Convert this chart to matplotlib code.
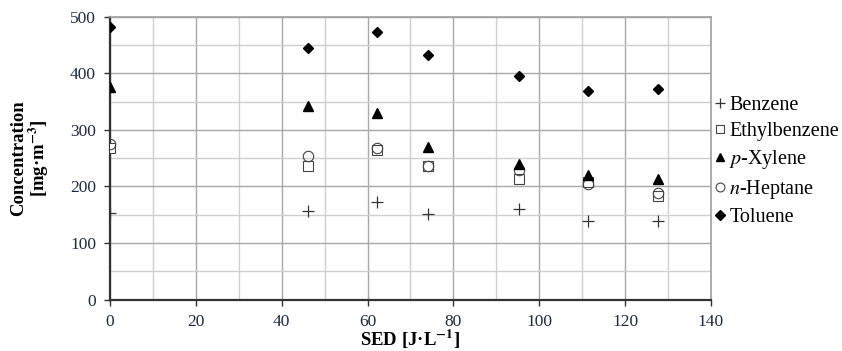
import numpy as np
import matplotlib.pyplot as plt
from matplotlib.ticker import MultipleLocator

plt.rcParams['font.family'] = ['Liberation Serif', 'DejaVu Serif']
plt.rcParams['mathtext.fontset'] = 'stix'

# Data
sed = [0, 46.2, 62.3, 74.0, 95.3, 111.3, 127.7]
benzene = [153, 157, 173, 151, 160, 139, 139]
ethylbenzene = [268, 237, 265, 237, 213, 207, 184]
p_xylene = [375, 342, 329, 270, 239, 220, 214]
n_heptane = [275, 254, 268, 236, 229, 204, 189]
toluene = [482, 445, 473, 433, 396, 368, 372]

fig = plt.figure(figsize=(8.42, 3.51), dpi=100)
ax = fig.add_axes([0.1306, 0.1464, 0.7138, 0.806])

# Series
ax.plot(sed, benzene, ls='none', marker='+', ms=8, mew=0.9, color='#333333', label='Benzene', zorder=3)
ax.plot(sed, ethylbenzene, ls='none', marker='s', ms=7, mfc='white', mec='#444444', mew=0.8,
        label='Ethylbenzene', zorder=3)
ax.plot(sed, n_heptane, ls='none', marker='o', ms=7.5, mfc='none', mec='#444444', mew=0.8,
        label=r'$n$-Heptane', zorder=4)
ax.plot(sed, p_xylene, ls='none', marker='^', ms=7, color='black', label=r'$p$-Xylene', zorder=5)
ax.plot(sed, toluene, ls='none', marker='D', ms=5.5, color='black', label='Toluene', zorder=5)

ax.set_xlim(0, 140)
ax.set_ylim(0, 500)
ax.xaxis.set_major_locator(MultipleLocator(20))
ax.xaxis.set_minor_locator(MultipleLocator(10))
ax.yaxis.set_major_locator(MultipleLocator(100))
ax.yaxis.set_minor_locator(MultipleLocator(50))

ax.grid(True, which='major', color='#a8a8a8', lw=1.0, zorder=0)
ax.grid(True, which='minor', color='#cfcfcf', lw=1.0, zorder=0)
ax.set_axisbelow(True)

for s in ['top', 'right']:
    ax.spines[s].set_color('#a0a0a0')
    ax.spines[s].set_linewidth(1.2)
for s in ['left', 'bottom']:
    ax.spines[s].set_color('#333333')
    ax.spines[s].set_linewidth(1.6)

ax.tick_params(which='major', direction='out', length=4, width=1, color='#333333',
               labelsize=12.5, labelcolor='#1c2a44', pad=6)
ax.tick_params(which='minor', length=0)

ax.set_xlabel(r'SED [J·L$^{\mathbf{-1}}$]', fontsize=13.5, fontweight='bold', va='center')
ax.xaxis.set_label_coords(0.5, -0.142)
ax.set_ylabel('Concentration\n' + r'[mg·m$^{\mathbf{-3}}$]', fontsize=13.5, fontweight='bold',
              linespacing=1.0, va='center')
ax.yaxis.set_label_coords(-0.132, 0.5)

# Legend order as in the reference
h, l = ax.get_legend_handles_labels()
order = [0, 1, 3, 2, 4]
ax.legend([h[i] for i in order], [l[i] for i in order], loc='upper left',
          bbox_to_anchor=(0.992, 0.75), frameon=False, fontsize=14.5,
          handlelength=0.6, handletextpad=0.15, labelspacing=0.35, borderaxespad=0,
          markerscale=0.85)

fig.savefig('out.png', dpi=100)
